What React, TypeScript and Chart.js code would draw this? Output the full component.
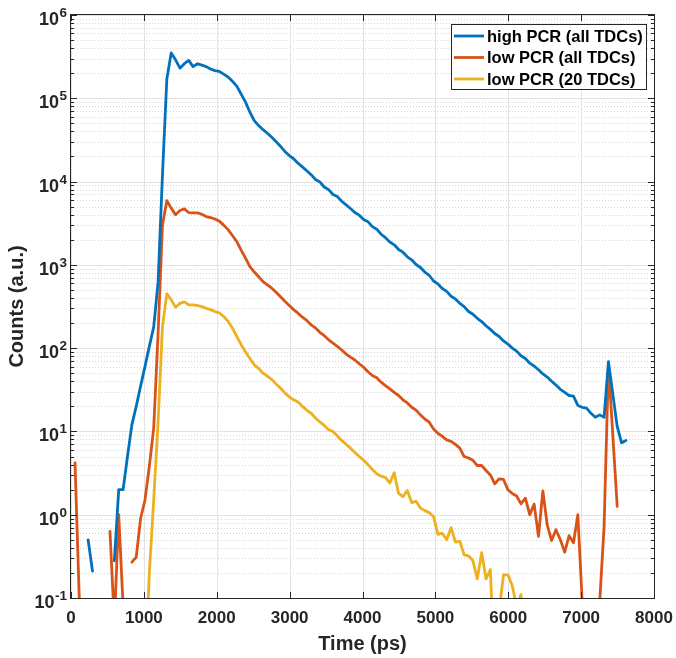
import React, { useEffect, useRef } from 'react';
import { Chart, registerables } from 'chart.js';

Chart.register(...registerables);

// ---- data ----
const times = [
  55, 115, 175, 235, 295, 355, 415, 475, 535, 595,
  655, 715, 775, 835, 895, 955, 1015, 1075, 1135, 1195,
  1255, 1315, 1375, 1435, 1495, 1555, 1615, 1675, 1735, 1795,
  1855, 1915, 1975, 2035, 2095, 2155, 2215, 2275, 2335, 2395,
  2455, 2515, 2575, 2635, 2695, 2755, 2815, 2875, 2935, 2995,
  3055, 3115, 3175, 3235, 3295, 3355, 3415, 3475, 3535, 3595,
  3655, 3715, 3775, 3835, 3895, 3955, 4015, 4075, 4135, 4195,
  4255, 4315, 4375, 4435, 4495, 4555, 4615, 4675, 4735, 4795,
  4855, 4915, 4975, 5035, 5095, 5155, 5215, 5275, 5335, 5395,
  5455, 5515, 5575, 5635, 5695, 5755, 5815, 5875, 5935, 5995,
  6055, 6115, 6175, 6235, 6295, 6355, 6415, 6475, 6535, 6595,
  6655, 6715, 6775, 6835, 6895, 6955, 7015, 7075, 7135, 7195,
  7255, 7315, 7375, 7435, 7495, 7555, 7615,
];

const highPcrAll: (number | null)[] = [
  null, null, null, 0.5, 0.21, null, null, null, null, 0.28,
  2.0, 2.0, 5, 12, 20, 35, 60, 105, 180, 620,
  12000, 170000, 350000, 290000, 230000, 260000, 285000, 240000, 260000, 250000,
  240000, 225000, 215000, 210000, 195000, 180000, 160000, 140000, 112000, 90000,
  68000, 54000, 47000, 42000, 38000, 34000, 30000, 26500, 23000, 20500,
  18800, 16600, 15000, 13500, 12100, 10600, 9900, 8600, 8000, 7000,
  6600, 5800, 5250, 4750, 4250, 3950, 3500, 3300, 2880, 2680,
  2330, 2120, 1880, 1740, 1530, 1420, 1250, 1150, 1010, 930,
  820, 750, 640, 590, 520, 480, 420, 390, 345, 315,
  275, 255, 228, 208, 186, 168, 150, 138, 122, 112,
  100, 92, 81, 75, 66, 61, 55, 49, 45, 40,
  36, 32, 29.5, 27, 26.5, 20.5, 19.5, 19, 16.5, 14.8,
  15.8, 14.8, 69, 28, 11.5, 7.3, 7.8,
];

const lowPcrAll: (number | null)[] = [
  4.2, 0.09, null, null, null, null, null, null, 0.63, 0.05,
  1.0, 0.08, null, 0.27, 0.31, 0.9, 1.5, 3.8, 11, 150,
  3000, 5900, 4800, 4000, 4500, 4700, 4250, 4200, 4200, 4050,
  3800, 3700, 3550, 3350, 3000, 2650, 2250, 1900, 1500, 1200,
  950, 820, 720, 630, 575, 525, 470, 415, 365, 325,
  290, 263, 235, 215, 190, 175, 155, 141, 126, 115,
  105, 95, 85, 78, 72, 65, 59, 52, 47, 44,
  39, 35.5, 32.5, 29.5, 27, 24, 22, 19.5, 18, 15.8,
  14.1, 12.9, 10.7, 9.5, 8.7, 7.9, 7.6, 7.0, 6.3, 5.0,
  4.8, 4.5, 3.9, 3.9, 3.4, 3.0, 2.35, 2.7, 2.65, 2.0,
  1.8, 1.68, 1.35, 1.58, 1.0, 1.34, 0.55, 1.93, 0.75, 0.49,
  0.66, 0.5, 0.355, 0.56, 0.46, 1.0, 0.09, null, null, 0.001,
  0.09, 0.72, 63, 9, 1.26, null, null,
];

const lowPcr20: (number | null)[] = [
  null, null, null, null, null, null, null, null, null, null,
  null, null, null, null, null, null, 0.01, 0.2, 1.5, 13,
  180, 450, 380, 310, 345, 360, 330, 330, 325, 315,
  300, 290, 275, 265, 240, 210, 175, 138, 110, 90,
  75, 63, 57, 50, 46, 42, 37, 33, 29, 26,
  24, 22.5, 20, 18, 16.5, 14.5, 13, 11.8, 10.5, 10,
  8.8, 7.8, 7.0, 6.3, 5.6, 5.0, 4.5, 4.0, 3.5, 3.1,
  2.9, 2.8, 2.4, 3.2, 1.8, 1.65, 1.95, 1.4, 1.45, 1.2,
  1.12, 1.06, 0.95, 0.58, 0.6, 0.5, 0.7, 0.47, 0.48, 0.33,
  0.32, 0.28, 0.17, 0.35, 0.17, 0.22, 0.01, 0.07, 0.19, 0.19,
  0.14, 0.08, 0.11, 0.02, null, null, null, null, null, null,
  null, null, null, null, null, null, null, null, null, null,
  null, null, null, null, null, null, null,
];

const seriesLabels = ['high PCR (all TDCs)', 'low PCR (all TDCs)', 'low PCR (20 TDCs)'];
const seriesColors = ['#0072BD', '#D95319', '#EDB120'];
const xTickValues = [0, 1000, 2000, 3000, 4000, 5000, 6000, 7000, 8000];
const yTickExponents = [-1, 0, 1, 2, 3, 4, 5, 6];
const xTitle = 'Time (ps)';
const yTitle = 'Counts (a.u.)';

// ---- style ----
const FONT = '"Liberation Sans", Arial, Helvetica, sans-serif';
const AXIS_COLOR = '#262626';
const MAJOR_GRID = '#e3e3e3';
const MINOR_GRID = '#d6d6d6';

const decorPlugin = {
  id: 'matlabDecor',
  beforeDatasetsDraw(chart: any) {
    const { ctx, chartArea: a, scales } = chart;
    const x = scales.x;
    const y = scales.y;
    ctx.save();
    ctx.lineWidth = 1;
    ctx.strokeStyle = MINOR_GRID;
    ctx.setLineDash([1, 2]);
    for (let i = 0; i < yTickExponents.length - 1; i++) {
      const e = yTickExponents[i];
      for (let m = 2; m <= 9; m++) {
        const py = Math.round(y.getPixelForValue(m * Math.pow(10, e))) + 0.5;
        ctx.beginPath();
        ctx.moveTo(a.left, py);
        ctx.lineTo(a.right, py);
        ctx.stroke();
      }
    }
    ctx.setLineDash([]);
    ctx.strokeStyle = MAJOR_GRID;
    yTickExponents.forEach((e) => {
      const py = Math.round(y.getPixelForValue(Math.pow(10, e))) + 0.5;
      ctx.beginPath();
      ctx.moveTo(a.left, py);
      ctx.lineTo(a.right, py);
      ctx.stroke();
    });
    xTickValues.forEach((v) => {
      const px = Math.round(x.getPixelForValue(v)) + 0.5;
      ctx.beginPath();
      ctx.moveTo(px, a.top);
      ctx.lineTo(px, a.bottom);
      ctx.stroke();
    });
    ctx.restore();
  },
  afterDatasetsDraw(chart: any) {
    const { ctx, chartArea: a, scales } = chart;
    const x = scales.x;
    const y = scales.y;
    ctx.save();
    ctx.strokeStyle = AXIS_COLOR;
    ctx.lineWidth = 1;
    ctx.strokeRect(a.left - 0.5, a.top - 0.5, a.right - a.left + 1, a.bottom - a.top + 1);
    xTickValues.forEach((v) => {
      const px = Math.round(x.getPixelForValue(v)) + 0.5;
      ctx.beginPath();
      ctx.moveTo(px, a.bottom);
      ctx.lineTo(px, a.bottom - 6);
      ctx.moveTo(px, a.top);
      ctx.lineTo(px, a.top + 6);
      ctx.stroke();
    });
    yTickExponents.forEach((e, i) => {
      const py = Math.round(y.getPixelForValue(Math.pow(10, e))) + 0.5;
      ctx.beginPath();
      ctx.moveTo(a.left, py);
      ctx.lineTo(a.left + 6, py);
      ctx.moveTo(a.right, py);
      ctx.lineTo(a.right - 6, py);
      ctx.stroke();
      if (i < yTickExponents.length - 1) {
        for (let m = 2; m <= 9; m++) {
          const pm = Math.round(y.getPixelForValue(m * Math.pow(10, e))) + 0.5;
          ctx.beginPath();
          ctx.moveTo(a.left, pm);
          ctx.lineTo(a.left + 3, pm);
          ctx.moveTo(a.right, pm);
          ctx.lineTo(a.right - 3, pm);
          ctx.stroke();
        }
      }
    });
    // x tick labels
    ctx.fillStyle = AXIS_COLOR;
    ctx.font = `bold 17px ${FONT}`;
    ctx.textAlign = 'center';
    ctx.textBaseline = 'alphabetic';
    xTickValues.forEach((v) => {
      ctx.fillText(String(v), x.getPixelForValue(v), a.bottom + 25);
    });
    // y tick labels 10^e
    const right = a.left - 4;
    yTickExponents.forEach((e) => {
      const py = y.getPixelForValue(Math.pow(10, e));
      const expStr = String(e);
      ctx.font = `bold 13.5px ${FONT}`;
      const ew = ctx.measureText(expStr).width;
      ctx.textAlign = 'right';
      ctx.fillText(expStr, right, py + 2);
      ctx.font = `bold 18px ${FONT}`;
      ctx.fillText('10', right - ew - 0.5, py + 10);
    });
    // axis titles
    ctx.font = `bold 20px ${FONT}`;
    ctx.textAlign = 'center';
    ctx.textBaseline = 'alphabetic';
    ctx.fillText(xTitle, (a.left + a.right) / 2, 650);
    ctx.save();
    ctx.translate(23, (a.top + a.bottom) / 2);
    ctx.rotate(-Math.PI / 2);
    ctx.fillText(yTitle, 0, 0);
    ctx.restore();
    // legend
    const lx = 451, ly = 24, lw = 195, lh = 65;
    ctx.fillStyle = '#ffffff';
    ctx.fillRect(lx, ly, lw, lh);
    ctx.strokeStyle = AXIS_COLOR;
    ctx.lineWidth = 1;
    ctx.strokeRect(lx + 0.5, ly + 0.5, lw, lh);
    ctx.font = `bold 16.5px ${FONT}`;
    ctx.textAlign = 'left';
    ctx.textBaseline = 'middle';
    chart.data.datasets.forEach((ds: any, i: number) => {
      const ry = ly + 12 + i * 21.5;
      ctx.strokeStyle = ds.borderColor;
      ctx.lineWidth = 2.8;
      ctx.beginPath();
      ctx.moveTo(lx + 3, ry);
      ctx.lineTo(lx + 33, ry);
      ctx.stroke();
      ctx.fillStyle = '#000000';
      ctx.fillText(ds.label, lx + 36, ry + 1);
    });
    ctx.restore();
  },
};

export default function App() {
  const canvasRef = useRef<HTMLCanvasElement | null>(null);

  useEffect(() => {
    document.body.style.margin = '0';
    const canvas = canvasRef.current;
    if (!canvas) return;
    const seriesValues = [highPcrAll, lowPcrAll, lowPcr20];
    const chart = new Chart(canvas, {
      type: 'line',
      data: {
        datasets: seriesValues.map((vals, i) => ({
          label: seriesLabels[i],
          data: times.map((t, j) => ({ x: t, y: vals[j] })),
          borderColor: seriesColors[i],
          backgroundColor: seriesColors[i],
          borderWidth: 2.8,
          pointRadius: 0,
          pointHoverRadius: 0,
          tension: 0,
          spanGaps: false,
          borderJoinStyle: 'round',
          borderCapStyle: 'round',
          clip: 0,
        })),
      },
      options: {
        animation: false,
        responsive: false,
        maintainAspectRatio: false,
        devicePixelRatio: 1,
        layout: { padding: { top: 15, right: 22, left: 0, bottom: 0 } },
        plugins: {
          legend: { display: false },
          tooltip: { enabled: false },
        },
        events: [],
        scales: {
          x: {
            type: 'linear',
            min: 0,
            max: 8000,
            grid: { display: false },
            ticks: { display: false },
            border: { display: false },
            afterFit: (s: any) => {
              s.height = 60;
              s.paddingLeft = 0;
              s.paddingRight = 0;
            },
          },
          y: {
            type: 'logarithmic',
            min: 0.1,
            max: 1e6,
            grid: { display: false },
            ticks: { display: false },
            border: { display: false },
            afterFit: (s: any) => {
              s.width = 71;
              s.paddingTop = 0;
              s.paddingBottom = 0;
            },
          },
        },
      } as any,
      plugins: [decorPlugin],
    });
    return () => chart.destroy();
  }, []);

  return (
    <div style={{ width: 676, height: 658, background: '#ffffff' }}>
      <canvas ref={canvasRef} width={676} height={658} style={{ display: 'block' }} />
    </div>
  );
}
